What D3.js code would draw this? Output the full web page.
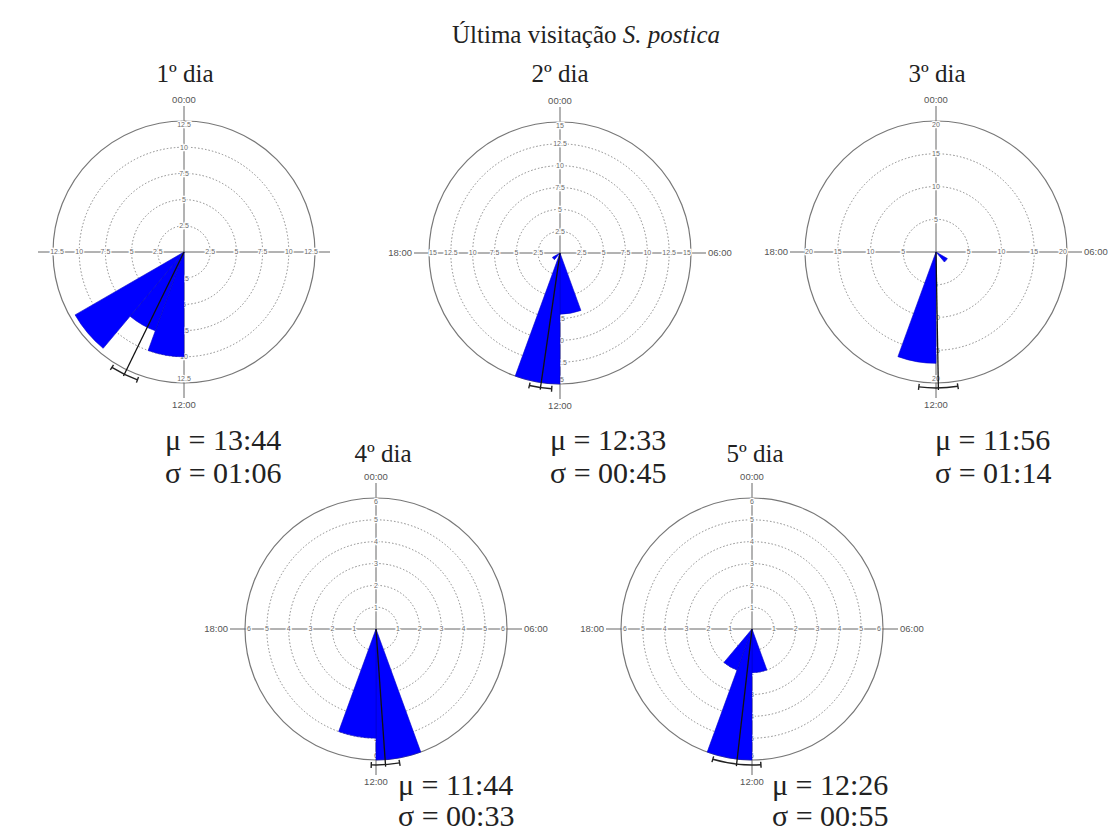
<!DOCTYPE html>
<html><head><meta charset="utf-8">
<script src="https://cdn.jsdelivr.net/npm/d3@7"></script>
<style>
body{margin:0;background:#fff;}
svg{display:block;}
</style></head>
<body>
<svg id="chart" width="1110" height="832"></svg>
<script>
// ---------- data ----------
const titleMain = "Última visitação ";
const titleItalic = "S. postica";
const dayLabels = ["1º dia", "2º dia", "3º dia", "4º dia", "5º dia"];
// bin starts (20° = 1h20 bins)
const binStarts = ["00:00","01:20","02:40","04:00","05:20","06:40","08:00","09:20","10:40",
                   "12:00","13:20","14:40","16:00","17:20","18:40","20:00","21:20","22:40"];
const day1Counts = [0,0,0,0,0,0,0,0,0, 10,8,12, 0,0,0,0,0,0];
const day2Counts = [0,0,0,0,0,0,0,0,7, 15,0,1, 0,0,0,0,0,0];
const day3Counts = [0,0,0,0,0,0,2,0,0, 17,0,0, 0,0,0,0,0,0];
const day4Counts = [0,0,0,0,0,0,0,0,6, 5,0,0, 0,0,0,0,0,0];
const day5Counts = [0,0,0,0,0,0,0,0,2, 6,2,0, 0,0,0,0,0,0];
const meanTimes = ["13:44", "12:33", "11:56", "11:44", "12:26"];
const sigmaTimes = ["01:06", "00:45", "01:14", "00:33", "00:55"];
const ciHalfMinutes = [24, 19, 33, 24, 41];
const maxValues = [12.5, 15, 20, 6, 6];
const ringTicks = [
  [2.5, 5, 7.5, 10, 12.5],
  [2.5, 5, 7.5, 10, 12.5, 15],
  [5, 10, 15, 20],
  [1, 2, 3, 4, 5, 6],
  [1, 2, 3, 4, 5, 6]
];
const axisLabels = ["00:00", "06:00", "12:00", "18:00"];
const showSideLabels = [false, true, true, true, true];
const allCounts = [day1Counts, day2Counts, day3Counts, day4Counts, day5Counts];

// ---------- layout ----------
const centers = [[184,252],[560,253],[936,252],[376,629],[752,629]];
const R = 131;
const titlePos = [[185,82],[560,82],[937,82],[383,462],[755,462]];
const statPos = [[165,450],[550,450],[935,450],[398,795],[772,795]];
const statGap = [33,33,33,31,31];
const binMinutes = 80;

const toMin = s => { const [h,m] = s.split(":").map(Number); return h*60+m; };
const angle = d3.scaleLinear().domain([0,1440]).range([0, 2*Math.PI]);

const svg = d3.select("#chart");
const serif = "'Liberation Serif', 'Times New Roman', serif";

// main title
const t = svg.append("text").attr("x", 586).attr("y", 43).attr("text-anchor","middle")
  .attr("font-family", serif).attr("font-size", 25).attr("fill","#222");
t.append("tspan").text(titleMain);
t.append("tspan").attr("font-style","italic").text(titleItalic);

allCounts.forEach((counts, i) => {
  const [cx, cy] = centers[i];
  const g = svg.append("g").attr("transform", `translate(${cx},${cy})`);
  const r = d3.scaleLinear().domain([0, maxValues[i]]).range([0, R]);
  const ticks = ringTicks[i];
  const ext = R + 15;

  // rings
  g.selectAll("circle.ring").data(ticks).join("circle")
    .attr("r", d => r(d)).attr("fill","none")
    .attr("stroke", (d,j) => j === ticks.length-1 ? "#777" : "#888")
    .attr("stroke-width", (d,j) => j === ticks.length-1 ? 1.2 : 1)
    .attr("stroke-dasharray", (d,j) => j === ticks.length-1 ? null : "1.5,2");

  // axes lines
  g.append("line").attr("x1", -ext).attr("x2", ext).attr("y1",0).attr("y2",0).attr("stroke","#666").attr("stroke-width",1);
  g.append("line").attr("y1", -ext).attr("y2", ext).attr("x1",0).attr("x2",0).attr("stroke","#666").attr("stroke-width",1);

  // tick labels along 4 directions
  const dirs = [[0,-1],[1,0],[0,1],[-1,0]];
  dirs.forEach(([dx,dy]) => {
    g.selectAll(null).data(ticks).join("text")
      .attr("x", d => dx * (r(d) - (d === ticks[ticks.length-1] ? 4 : 0)))
      .attr("y", d => dy * (r(d) - (d === ticks[ticks.length-1] ? 4 : 0)))
      .attr("dy","0.35em").attr("text-anchor","middle")
      .attr("font-family","'Liberation Sans', Arial, sans-serif").attr("font-size", 7)
      .attr("fill","#6a6a6a").attr("stroke","#fff").attr("stroke-width",2.5).attr("paint-order","stroke")
      .text(d => d);
  });

  // time labels
  const lf = "'Liberation Sans', Arial, sans-serif";
  g.append("text").attr("x",0).attr("y",-R-21).attr("dy","0.35em").attr("text-anchor","middle")
    .attr("font-family",lf).attr("font-size",9.5).attr("fill","#555").text(axisLabels[0]);
  g.append("text").attr("x",0).attr("y",R+22).attr("dy","0.35em").attr("text-anchor","middle")
    .attr("font-family",lf).attr("font-size",9.5).attr("fill","#555").text(axisLabels[2]);
  if (showSideLabels[i]) {
    g.append("text").attr("x",ext+2).attr("y",0).attr("dy","0.35em").attr("text-anchor","start")
      .attr("font-family",lf).attr("font-size",9.5).attr("fill","#555").text(axisLabels[1]);
    g.append("text").attr("x",-ext-2).attr("y",0).attr("dy","0.35em").attr("text-anchor","end")
      .attr("font-family",lf).attr("font-size",9.5).attr("fill","#555").text(axisLabels[3]);
  }

  // wedges
  const arc = d3.arc().innerRadius(0);
  g.selectAll("path.wedge").data(binStarts.map((b,k) => ({b, v: counts[k]})).filter(d => d.v > 0))
    .join("path")
    .attr("d", d => arc({outerRadius: r(d.v), startAngle: angle(toMin(d.b)), endAngle: angle(toMin(d.b)+binMinutes)}))
    .attr("fill","#0000ff").attr("stroke","#0000c8").attr("stroke-width",0.6);

  // mean line and CI
  const mA = angle(toMin(meanTimes[i]));
  const ci = angle(ciHalfMinutes[i]);
  const rb = R + 5;
  const px = (a, rr) => [Math.sin(a)*rr, -Math.cos(a)*rr];
  const [mx, my] = px(mA, rb + 2);
  g.append("line").attr("x1",0).attr("y1",0).attr("x2",mx).attr("y2",my).attr("stroke","#111").attr("stroke-width",1.3);
  g.append("path").attr("d", d3.arc()({innerRadius: rb, outerRadius: rb, startAngle: mA-ci, endAngle: mA+ci}))
    .attr("fill","none").attr("stroke","#222").attr("stroke-width",1.4);
  [mA-ci, mA+ci].forEach(a => {
    const [x1,y1] = px(a, rb-3), [x2,y2] = px(a, rb+3);
    g.append("line").attr("x1",x1).attr("y1",y1).attr("x2",x2).attr("y2",y2).attr("stroke","#222").attr("stroke-width",1.4);
  });

  // day title
  svg.append("text").attr("x", titlePos[i][0]).attr("y", titlePos[i][1]).attr("text-anchor","middle")
    .attr("font-family", serif).attr("font-size", 25).attr("fill","#222")
    .text(dayLabels[i]);

  // stats
  const st = svg.append("text").attr("x", statPos[i][0]).attr("y", statPos[i][1])
    .attr("font-family", serif).attr("font-size", 30).attr("fill","#222");
  st.append("tspan").attr("x", statPos[i][0]).text(`μ = ${meanTimes[i]}`);
  st.append("tspan").attr("x", statPos[i][0]).attr("dy", statGap[i]).text(`σ = ${sigmaTimes[i]}`);
});
</script>
</body></html>
